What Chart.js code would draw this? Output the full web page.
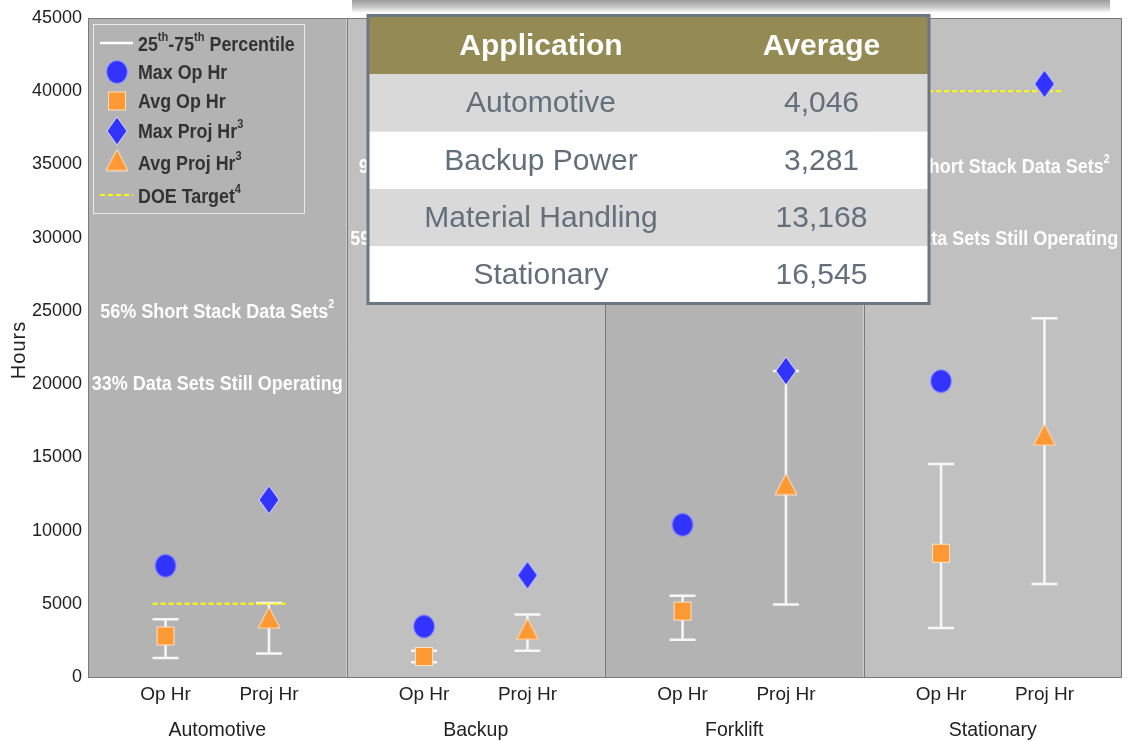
<!DOCTYPE html>
<html>
<head>
    <title>Durability - Hours</title>
    <script src="https://cdn.jsdelivr.net/npm/chart.js"></script>
    <style>
        html, body {
            margin: 0;
            padding: 0;
            background-color: #fff;
        }
        #wrap {
            width: 1128px;
            height: 741px;
        }
    </style>
</head>
<body>

<div id="wrap">
    <canvas id="hoursChart" width="1128" height="741"></canvas>
</div>

<script>
    // chart values
    const categories = ['Automotive', 'Backup', 'Forklift', 'Stationary'];
    const tickNames = ['Op Hr', 'Proj Hr'];
    const yTicks = [0, 5000, 10000, 15000, 20000, 25000, 30000, 35000, 40000, 45000];

    const maxOpHr   = [7600, 3450, 10400, 20200];
    const avgOpHr   = [2800, 1400, 4500, 8450];
    const maxProjHr = [12100, 6950, 20900, 40500];
    const avgProjHr = [4046, 3281, 13168, 16545];

    // 25th-75th percentile whiskers
    const opP25   = [1300, 1000, 2550, 3350];
    const opP75   = [3950, 1800, 5550, 14550];
    const projP25 = [1600, 1800, 4950, 6350];
    const projP75 = [5050, 4270, 20900, 24500];

    const doeTarget = [5000, null, null, 40000];

    // panel notes (the backup / stationary ones sit mostly behind the table)
    const shortStackPct = ['56%', '94%', null, '63%'];
    const stillOpPct    = ['33%', '59%', null, '71%'];

    // inset table
    const tableApps = ['Automotive', 'Backup Power', 'Material Handling', 'Stationary'];
    const tableAvg  = ['4,046', '3,281', '13,168', '16,545'];

    const SANS = '"Liberation Sans", Arial, sans-serif';
    const panelColors = ['#b3b3b3', '#c0c0c0'];

    // marker images
    function makeMarker(w, h, draw) {
        const c = document.createElement('canvas');
        c.width = w;
        c.height = h;
        draw(c.getContext('2d'), w, h);
        return c;
    }
    const circleImg = makeMarker(24, 26, (g, w, h) => {
        g.beginPath();
        g.ellipse(w / 2, h / 2, 10.5, 11.5, 0, 0, Math.PI * 2);
        g.fillStyle = '#3333ff';
        g.fill();
        g.strokeStyle = '#9a9aff';
        g.lineWidth = 1;
        g.stroke();
    });
    const squareImg = makeMarker(20, 21, (g, w, h) => {
        g.fillStyle = '#ff9933';
        g.fillRect(1, 1, w - 2, h - 2);
        g.strokeStyle = '#ffe2c4';
        g.lineWidth = 1;
        g.strokeRect(1.5, 1.5, w - 3, h - 3);
    });
    const diamondImg = makeMarker(24, 30, (g, w, h) => {
        g.beginPath();
        g.moveTo(w / 2, 1);
        g.lineTo(w - 2, h / 2);
        g.lineTo(w / 2, h - 1);
        g.lineTo(2, h / 2);
        g.closePath();
        g.fillStyle = '#3333ff';
        g.fill();
        g.strokeStyle = '#d8d8ff';
        g.lineWidth = 1;
        g.stroke();
    });
    const triangleImg = makeMarker(24, 23, (g, w, h) => {
        g.beginPath();
        g.moveTo(w / 2, 1);
        g.lineTo(w - 1, h - 1);
        g.lineTo(1, h - 1);
        g.closePath();
        g.fillStyle = '#ff9933';
        g.fill();
        g.strokeStyle = '#ffe2c4';
        g.lineWidth = 1;
        g.stroke();
    });

    function points(values, offset) {
        return values.map((v, i) => ({ x: i + offset, y: v }));
    }

    const doePoints = [];
    doeTarget.forEach((v, i) => {
        if (v === null) return;
        doePoints.push({ x: i + 0.25, y: v }, { x: i + 0.765, y: v }, { x: i + 1, y: null });
    });

    // text with superscripts, squeezed sideways (narrow face look)
    function richText(ctx, parts, x, y, size, weight, color, align, sx) {
        ctx.save();
        ctx.fillStyle = color;
        ctx.textBaseline = 'middle';
        ctx.textAlign = 'left';
        const big = weight + ' ' + size + 'px ' + SANS;
        const small = weight + ' ' + Math.round(size * 0.62) + 'px ' + SANS;
        let total = 0;
        parts.forEach(p => {
            ctx.font = p.sup ? small : big;
            total += ctx.measureText(p.t).width;
        });
        const start = align === 'center' ? x - total * sx / 2 : x;
        ctx.translate(start, y);
        ctx.scale(sx, 1);
        let cx = 0;
        parts.forEach(p => {
            ctx.font = p.sup ? small : big;
            ctx.fillText(p.t, cx, p.sup ? -size * 0.36 : 0);
            cx += ctx.measureText(p.t).width;
        });
        ctx.restore();
    }

    function whisker(ctx, px, top, bottom) {
        ctx.beginPath();
        ctx.moveTo(px, top);
        ctx.lineTo(px, bottom);
        ctx.moveTo(px - 13, top);
        ctx.lineTo(px + 13, top);
        ctx.moveTo(px - 13, bottom);
        ctx.lineTo(px + 13, bottom);
        ctx.stroke();
    }

    const panelsPlugin = {
        id: 'panels',
        beforeDatasetsDraw(chart) {
            const { ctx, chartArea: a, scales: { x, y } } = chart;
            ctx.save();
            categories.forEach((c, i) => {
                const x0 = x.getPixelForValue(i);
                const x1 = x.getPixelForValue(i + 1);
                ctx.fillStyle = panelColors[i % 2];
                ctx.fillRect(x0, a.top, x1 - x0, a.bottom - a.top);
            });
            ctx.strokeStyle = '#7a7a7a';
            ctx.lineWidth = 1;
            ctx.strokeRect(a.left + 0.5, a.top + 0.5, a.right - a.left - 1, a.bottom - a.top);
            for (let i = 1; i < categories.length; i++) {
                const px = Math.round(x.getPixelForValue(i)) + 0.5;
                ctx.beginPath();
                ctx.moveTo(px, a.top);
                ctx.lineTo(px, a.bottom);
                ctx.stroke();
            }

            // panel notes
            categories.forEach((c, i) => {
                if (shortStackPct[i] === null) return;
                const cx = x.getPixelForValue(i + 0.5);
                const y1 = i === 0 ? 24900 : 34800;
                const y2 = i === 0 ? 19950 : 29900;
                richText(ctx, [{ t: shortStackPct[i] + ' Short Stack Data Sets' }, { t: '2', sup: true }],
                    cx, y.getPixelForValue(y1), 20, 'bold', '#ffffff', 'center', 0.9);
                richText(ctx, [{ t: stillOpPct[i] + ' Data Sets Still Operating' }],
                    cx, y.getPixelForValue(y2), 20, 'bold', '#ffffff', 'center', 0.9);
            });

            // whiskers
            ctx.strokeStyle = '#f7f7f7';
            ctx.lineWidth = 2.5;
            categories.forEach((c, i) => {
                whisker(ctx, x.getPixelForValue(i + 0.3), y.getPixelForValue(opP75[i]), y.getPixelForValue(opP25[i]));
                whisker(ctx, x.getPixelForValue(i + 0.7), y.getPixelForValue(projP75[i]), y.getPixelForValue(projP25[i]));
            });
            ctx.restore();
        },
        afterDraw(chart) {
            const { ctx, scales: { x } } = chart;
            ctx.save();

            // category names under the tick labels
            categories.forEach((c, i) => {
                richText(ctx, [{ t: c }], x.getPixelForValue(i + 0.5), 730, 21, 'normal', '#222222', 'center', 0.93);
            });

            // y title
            ctx.save();
            ctx.fillStyle = '#222';
            ctx.textAlign = 'center';
            ctx.textBaseline = 'middle';
            ctx.translate(19, 350);
            ctx.rotate(-Math.PI / 2);
            ctx.font = '20px ' + SANS;
            ctx.letterSpacing = '1px';
            ctx.fillText('Hours', 0, 0);
            ctx.restore();

            // legend box
            ctx.strokeStyle = '#e9e9e9';
            ctx.lineWidth = 1;
            ctx.strokeRect(93.5, 24.5, 211, 189);
            ctx.strokeStyle = '#ffffff';
            ctx.lineWidth = 2.5;
            ctx.beginPath();
            ctx.moveTo(100, 43);
            ctx.lineTo(133, 43);
            ctx.stroke();
            ctx.drawImage(circleImg, 117 - circleImg.width / 2, 72 - circleImg.height / 2);
            ctx.drawImage(squareImg, 117 - squareImg.width / 2, 101 - squareImg.height / 2);
            ctx.drawImage(diamondImg, 117 - diamondImg.width / 2, 131 - diamondImg.height / 2);
            ctx.drawImage(triangleImg, 117 - triangleImg.width / 2, 160 - triangleImg.height / 2);
            ctx.strokeStyle = '#ffff00';
            ctx.lineWidth = 2;
            ctx.setLineDash([5, 3]);
            ctx.beginPath();
            ctx.moveTo(100, 195);
            ctx.lineTo(133, 195);
            ctx.stroke();
            ctx.setLineDash([]);
            const lc = '#333333';
            richText(ctx, [{ t: '25' }, { t: 'th', sup: true }, { t: '-75' }, { t: 'th', sup: true }, { t: ' Percentile' }], 138, 45, 21, 'bold', lc, 'left', 0.85);
            richText(ctx, [{ t: 'Max Op Hr' }], 138, 73, 21, 'bold', lc, 'left', 0.85);
            richText(ctx, [{ t: 'Avg Op Hr' }], 138, 102, 21, 'bold', lc, 'left', 0.85);
            richText(ctx, [{ t: 'Max Proj Hr' }, { t: '3', sup: true }], 138, 132, 21, 'bold', lc, 'left', 0.85);
            richText(ctx, [{ t: 'Avg Proj Hr' }, { t: '3', sup: true }], 138, 164, 21, 'bold', lc, 'left', 0.85);
            richText(ctx, [{ t: 'DOE Target' }, { t: '4', sup: true }], 138, 197, 21, 'bold', lc, 'left', 0.85);

            // inset table
            const tx = 368, tr = 929, split = 714;
            const rows = [17, 74, 131.5, 189, 246, 303];
            ctx.fillStyle = '#948a54';
            ctx.fillRect(tx, rows[0], tr - tx, rows[1] - rows[0]);
            for (let r = 0; r < tableApps.length; r++) {
                ctx.fillStyle = r % 2 === 0 ? '#d9d9d9' : '#ffffff';
                ctx.fillRect(tx, rows[r + 1], tr - tx, rows[r + 2] - rows[r + 1]);
            }
            ctx.textAlign = 'center';
            ctx.textBaseline = 'middle';
            ctx.fillStyle = '#ffffff';
            ctx.font = 'bold 30px ' + SANS;
            ctx.fillText('Application', (tx + split) / 2, (rows[0] + rows[1]) / 2 + 1);
            ctx.fillText('Average', (split + tr) / 2, (rows[0] + rows[1]) / 2 + 1);
            ctx.fillStyle = '#636f7b';
            ctx.font = '30px ' + SANS;
            tableApps.forEach((t, r) => {
                const cy = (rows[r + 1] + rows[r + 2]) / 2 + 1;
                ctx.fillText(t, (tx + split) / 2, cy);
                ctx.fillText(tableAvg[r], (split + tr) / 2, cy);
            });
            ctx.strokeStyle = '#6b7782';
            ctx.lineWidth = 3;
            ctx.strokeRect(tx, 15.5, tr - tx, 288);

            // bottom edge of the title box, cut off at the top
            const grad = ctx.createLinearGradient(0, 0, 0, 13);
            grad.addColorStop(0, '#9c9c9c');
            grad.addColorStop(0.55, '#c8c8c8');
            grad.addColorStop(1, '#ffffff');
            ctx.fillStyle = grad;
            ctx.fillRect(352, 0, 758, 13);

            ctx.restore();
        }
    };

    const hoursCtx = document.getElementById('hoursChart').getContext('2d');
    const hoursChart = new Chart(hoursCtx, {
        type: 'scatter',
        data: {
            datasets: [
                {
                    label: 'Max Op Hr',
                    data: points(maxOpHr, 0.3),
                    pointStyle: circleImg,
                    pointRadius: 10,
                    pointHoverRadius: 10
                },
                {
                    label: 'Avg Op Hr',
                    data: points(avgOpHr, 0.3),
                    pointStyle: squareImg,
                    pointRadius: 10,
                    pointHoverRadius: 10
                },
                {
                    label: 'Max Proj Hr',
                    data: points(maxProjHr, 0.7),
                    pointStyle: diamondImg,
                    pointRadius: 10,
                    pointHoverRadius: 10
                },
                {
                    label: 'Avg Proj Hr',
                    data: points(avgProjHr, 0.7),
                    pointStyle: triangleImg,
                    pointRadius: 10,
                    pointHoverRadius: 10
                },
                {
                    label: 'DOE Target',
                    type: 'line',
                    data: doePoints,
                    showLine: true,
                    spanGaps: false,
                    borderColor: '#ffff00',
                    borderWidth: 2,
                    borderDash: [5, 3],
                    pointRadius: 0,
                    fill: false
                }
            ]
        },
        options: {
            responsive: false,
            animation: false,
            events: [],
            layout: {
                autoPadding: false,
                padding: { top: 18, right: 6, left: 0, bottom: 0 }
            },
            plugins: {
                legend: { display: false },
                tooltip: { enabled: false }
            },
            scales: {
                x: {
                    type: 'linear',
                    min: 0,
                    max: 4,
                    grid: { display: false, drawTicks: false },
                    border: { display: false },
                    afterBuildTicks: s => {
                        s.ticks = [];
                        categories.forEach((c, i) => {
                            s.ticks.push({ value: i + 0.3 }, { value: i + 0.7 });
                        });
                    },
                    ticks: {
                        autoSkip: false,
                        maxRotation: 0,
                        padding: 6,
                        color: '#222',
                        font: { family: SANS, size: 19 },
                        callback: (v, i) => tickNames[i % 2]
                    },
                    afterFit: s => {
                        s.height = 64;
                        s.paddingLeft = 0;
                        s.paddingRight = 0;
                    }
                },
                y: {
                    min: 0,
                    max: 45000,
                    grid: { display: false, drawTicks: false },
                    border: { display: false },
                    afterBuildTicks: s => {
                        s.ticks = yTicks.map(v => ({ value: v }));
                    },
                    ticks: {
                        padding: 6,
                        color: '#222',
                        font: { family: SANS, size: 18 },
                        callback: v => String(v)
                    },
                    afterFit: s => { s.width = 88; }
                }
            }
        },
        plugins: [panelsPlugin]
    });
</script>

</body>
</html>
